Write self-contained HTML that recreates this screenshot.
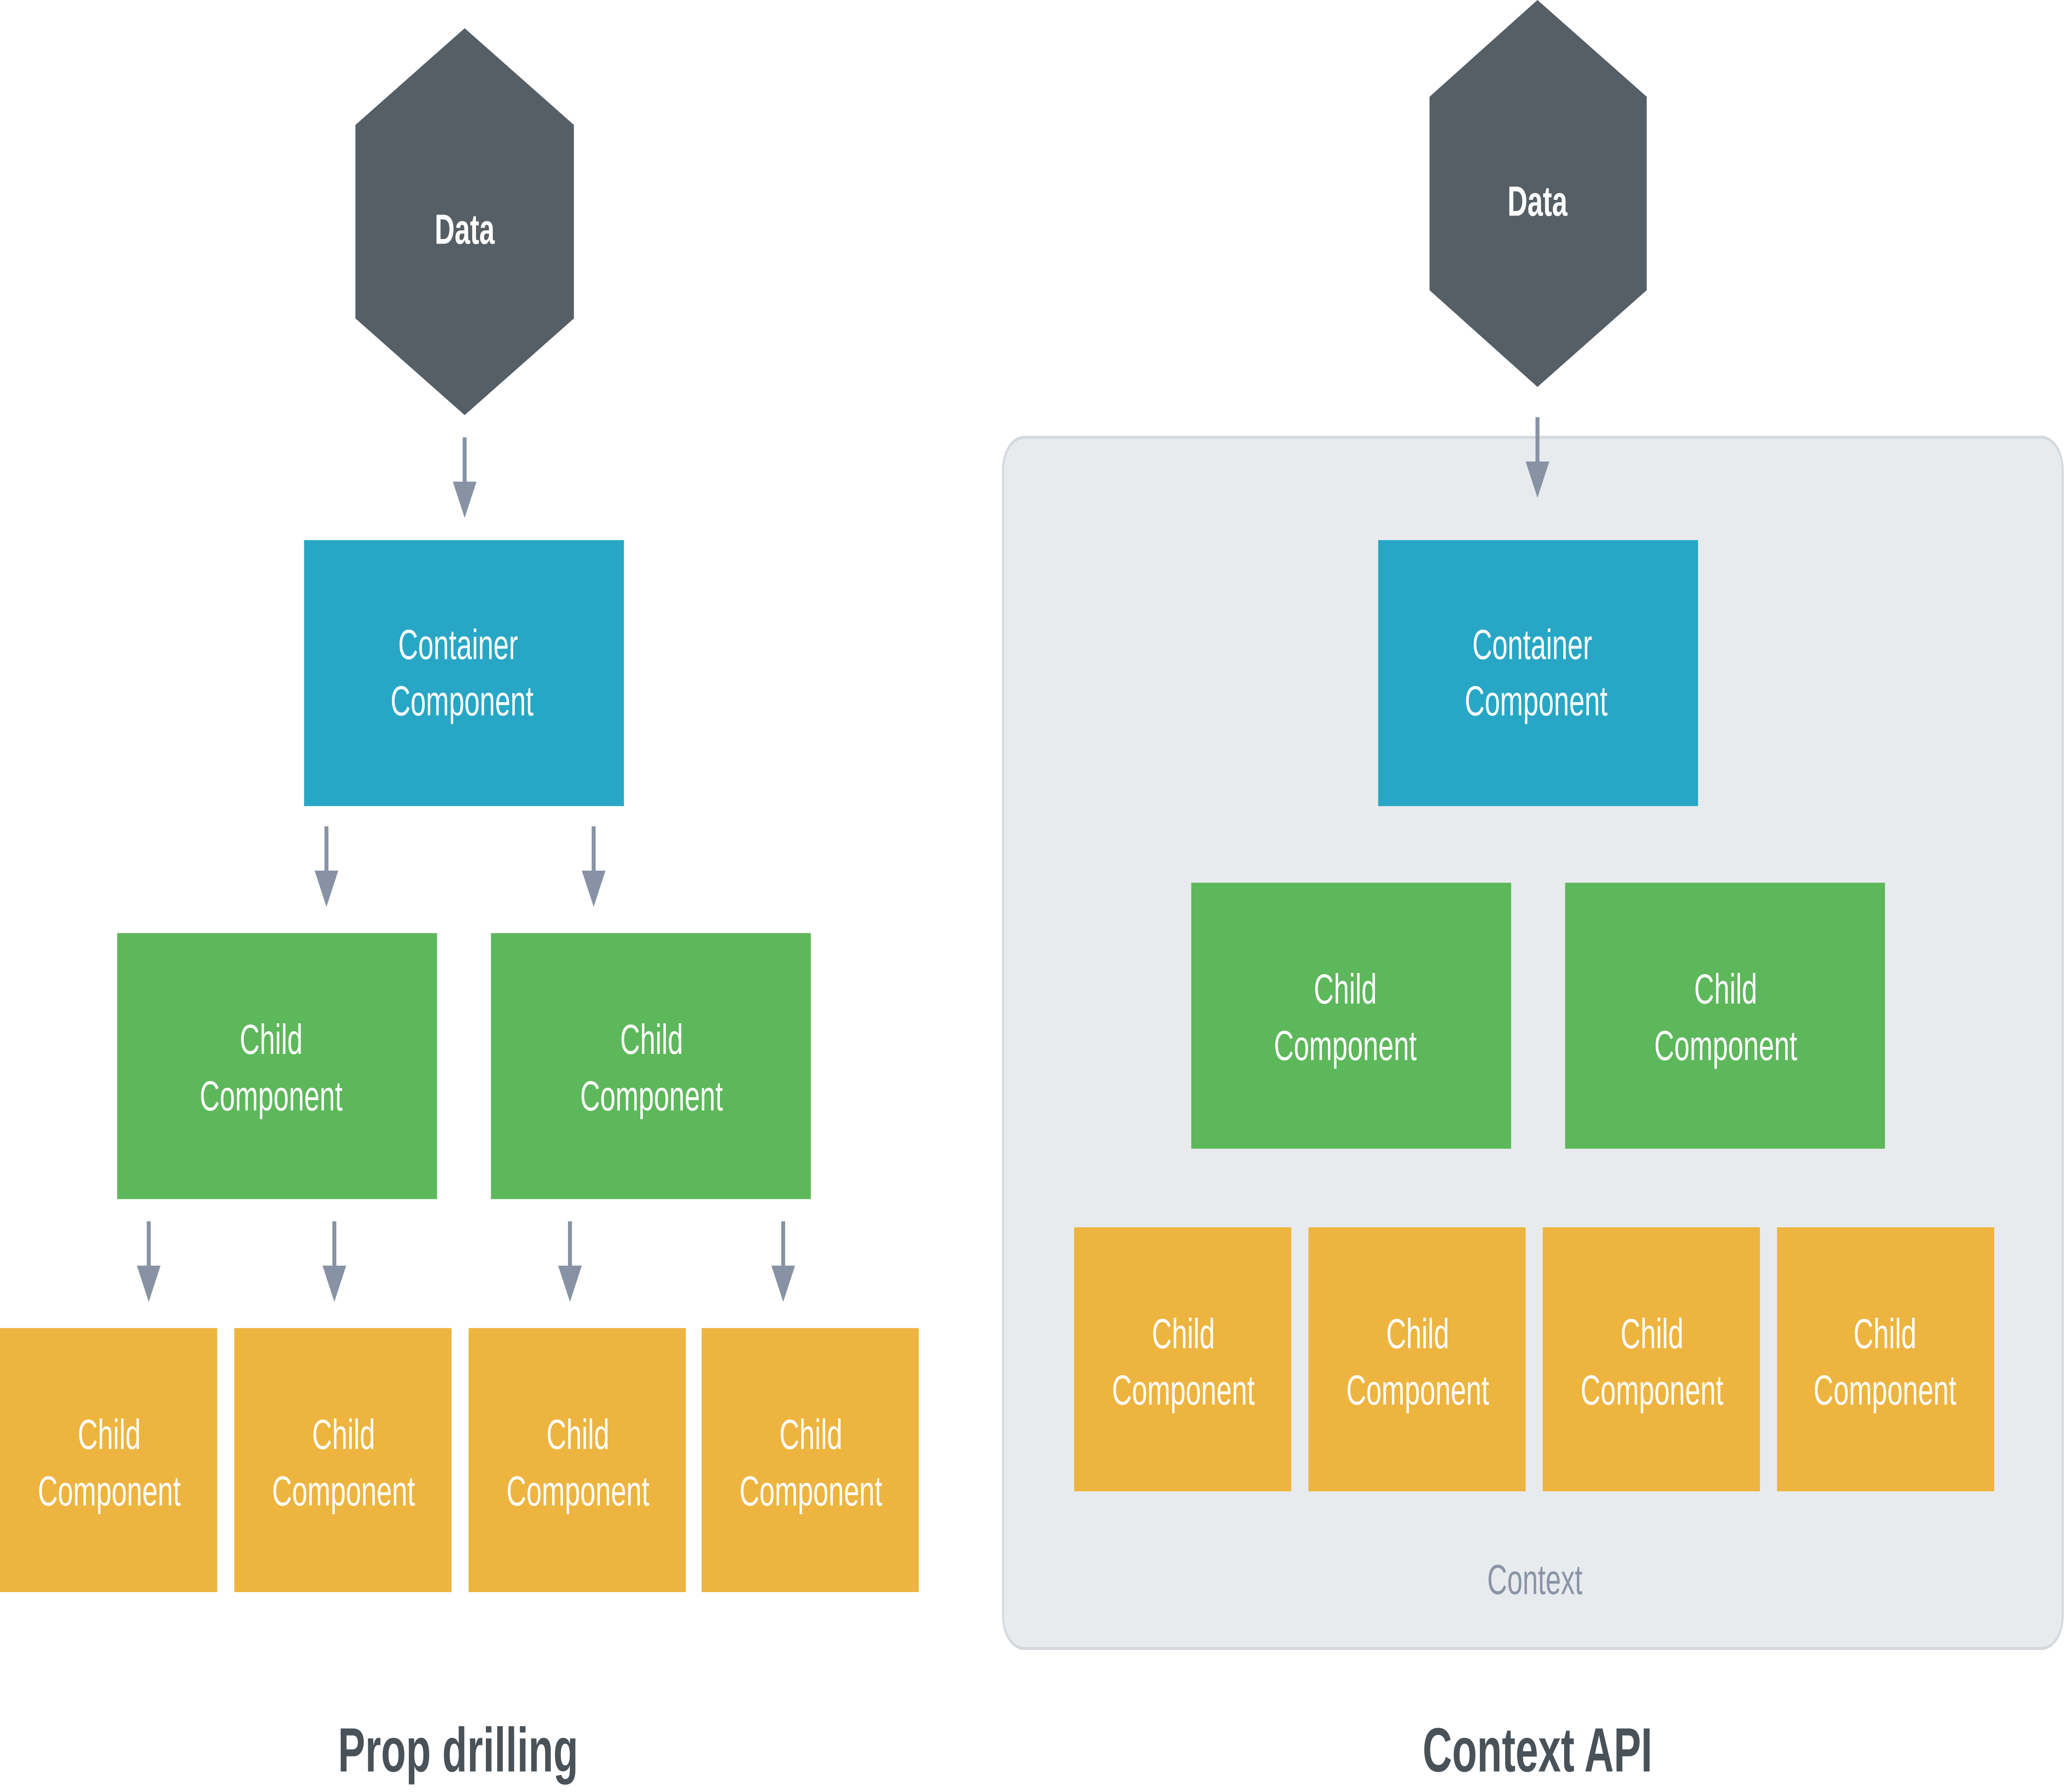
<!DOCTYPE html>
<html><head><meta charset="utf-8"><style>
html,body{margin:0;padding:0;background:#fff;width:100vw;height:100vh;overflow:hidden}
svg{display:block;width:100vw;height:100vh}
text{font-family:"Liberation Sans",sans-serif;}
</style></head><body>
<svg viewBox="0 0 1568 889.2" preserveAspectRatio="none" xmlns="http://www.w3.org/2000/svg">
<defs>
<g id="arr"><line x1="0" y1="0" x2="0" y2="26" stroke="#8793A5" stroke-width="3"/><polygon points="-9,22 9,22 0,40" fill="#8793A5"/></g>
</defs>
<rect x="762" y="217" width="805" height="601" rx="16" fill="#E8EBEE" stroke="#D5D9DD" stroke-width="1.5"/>
<polygon points="353,14 436,62 436,158 353,206 270,158 270,62" fill="#565F66"/>
<polygon points="1168,0 1251,48 1251,144 1168,192 1086,144 1086,48" fill="#565F66"/>
<g font-size="21" fill="#fff" text-anchor="middle" font-weight="bold">
<text x="353" y="121">Data</text>
<text x="1168" y="107">Data</text>
</g>
<use href="#arr" x="353" y="217"/>
<use href="#arr" x="1168" y="207"/>
<use href="#arr" x="248" y="410"/>
<use href="#arr" x="451" y="410"/>
<use href="#arr" x="113" y="606"/>
<use href="#arr" x="254" y="606"/>
<use href="#arr" x="433" y="606"/>
<use href="#arr" x="595" y="606"/>
<rect x="231" y="268" width="243" height="132" fill="#27A7C5"/>
<rect x="1047" y="268" width="243" height="132" fill="#27A7C5"/>
<g fill="#5DB75B">
<rect x="89" y="463" width="243" height="132"/><rect x="373" y="463" width="243" height="132"/>
<rect x="905" y="438" width="243" height="132"/><rect x="1189" y="438" width="243" height="132"/>
</g>
<g fill="#EDB43F">
<rect x="0" y="659" width="165" height="131"/><rect x="178" y="659" width="165" height="131"/>
<rect x="356" y="659" width="165" height="131"/><rect x="533" y="659" width="165" height="131"/>
<rect x="816" y="609" width="165" height="131"/><rect x="994" y="609" width="165" height="131"/>
<rect x="1172" y="609" width="165" height="131"/><rect x="1350" y="609" width="165" height="131"/>
</g>
<g font-size="21" fill="#fff" text-anchor="middle">
<text x="348" y="327">Container</text><text x="351" y="355">Component</text>
<text x="1164" y="327">Container</text><text x="1167" y="355">Component</text>
<text x="206" y="523">Child</text><text x="206" y="551">Component</text>
<text x="495" y="523">Child</text><text x="495" y="551">Component</text>
<text x="1022" y="498">Child</text><text x="1022" y="526">Component</text>
<text x="1311" y="498">Child</text><text x="1311" y="526">Component</text>
<text x="83" y="719">Child</text><text x="83" y="747">Component</text>
<text x="261" y="719">Child</text><text x="261" y="747">Component</text>
<text x="439" y="719">Child</text><text x="439" y="747">Component</text>
<text x="616" y="719">Child</text><text x="616" y="747">Component</text>
<text x="899" y="669">Child</text><text x="899" y="697">Component</text>
<text x="1077" y="669">Child</text><text x="1077" y="697">Component</text>
<text x="1255" y="669">Child</text><text x="1255" y="697">Component</text>
<text x="1432" y="669">Child</text><text x="1432" y="697">Component</text>
</g>
<text x="1166" y="791" font-size="21" fill="#8A94A6" text-anchor="middle">Context</text>
<g font-size="31" fill="#4A5259" text-anchor="middle" font-weight="bold">
<text x="348" y="879">Prop drilling</text>
<text x="1168" y="879">Context API</text>
</g>
</svg>
</body></html>
